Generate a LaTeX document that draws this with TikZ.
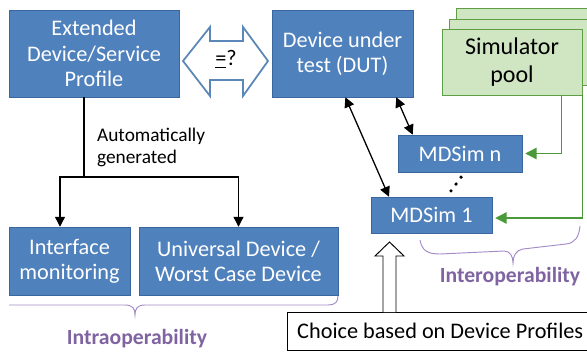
\documentclass[tikz,border=0pt]{standalone}
\usepackage{fontspec}
\setmainfont{Carlito}
\usetikzlibrary{arrows.meta}
\usetikzlibrary{calc}

\definecolor{boxblue}{HTML}{4F81BD}
\definecolor{boxedge}{HTML}{3A689E}
\definecolor{arrowblue}{HTML}{5B87B8}
\definecolor{poolgreen}{HTML}{D0E6C2}
\definecolor{pooledge}{HTML}{5E9E45}
\definecolor{linkgreen}{HTML}{4A9A3A}
\definecolor{bracepurple}{HTML}{A48BC8}
\definecolor{textpurple}{HTML}{8064A2}

\begin{document}
\begin{tikzpicture}
	[x=0.03cm, y=-0.03cm,
	 block/.style={draw=boxedge, fill=boxblue, text=white, align=center, inner sep=0pt, font=\fontsize{19}{21.5}\selectfont},
	 poolbox/.style={draw=pooledge, fill=poolgreen, line width=0.7pt, minimum width=4.2cm, minimum height=1.98cm},
	 link/.style={line width=1.1pt, {Triangle[length=3mm,width=3mm]}-{Triangle[length=3mm,width=3mm]}},
	 feed/.style={draw=linkgreen, line width=1.1pt, -{Triangle[length=3.4mm,width=3.4mm]}},
	 bracket/.style={draw=bracepurple, line width=0.8pt},
	 bracelabel/.style={text=textpurple, font=\fontsize{18.5}{20}\selectfont\bfseries}];

	\useasboundingbox (0,0) rectangle (587,353);

	%Profile and DUT
	\node[block, minimum width=5.1cm, minimum height=2.61cm] (ext) at (94,53.5) {Extended\\Device/Service\\Profile};
	\node[block, minimum width=4.23cm, minimum height=2.61cm] (dut) at (342.5,53.5) {Device under\\test (DUT)};
	\draw[draw=arrowblue, line width=1.5pt, fill=white] (183,61) -- (210,27) -- (210,41) -- (243,41) -- (243,27) -- (268,61) -- (243,96) -- (243,80) -- (210,80) -- (210,96) -- cycle;
	\node[font=\fontsize{19}{20}\selectfont] (eq) at (226,59) {\underline{=}?};

	%Simulator pool
	\node[poolbox] (pool3) at (526,41.5) {};
	\node[poolbox] (pool2) at (519,52) {};
	\node[poolbox, align=center, font=\fontsize{20.5}{24}\selectfont] (pool) at (512,62) {Simulator\\pool};

	\node[block, minimum width=3.72cm, minimum height=1.11cm] (simn) at (460,153.5) {MDSim n};
	\node[block, minimum width=3.63cm, minimum height=1.08cm] (sim1) at (431.5,215) {MDSim 1};

	%Generated
	\node[block, minimum width=3.63cm, minimum height=2.04cm] (mon) at (69.5,261) {Interface\\monitoring};
	\node[block, minimum width=5.97cm, minimum height=2.04cm] (univ) at (238.5,261) {Universal Device /\\Worst Case Device};

	\coordinate (split) at (84,177);
	\draw[line width=1.1pt] (ext.south -| split) -- (split);
	\draw[line width=1.1pt, -{Triangle[length=3mm,width=3mm]}] (split) -| ($(mon.north)+(-9.5,0)$);
	\draw[line width=1.1pt, -{Triangle[length=3mm,width=3mm]}] (split) -| (univ.north);
	\node[anchor=west, align=left, font=\fontsize{16.5}{18.8}\selectfont] (auto) at (93,147) {Automatically\\generated};

	%Links to the DUT
	\draw[link] ($(dut.south west)!0.52!(dut.south east)$) -- ($(sim1.north west)!0.15!(sim1.north east)$);
	\draw[link] ($(dut.south west)!0.88!(dut.south east)$) -- ($(simn.north west)!0.12!(simn.north east)$);
	\coordinate (dotlow) at ($(sim1.north)+(19.5,-6)$);
	\coordinate (dothigh) at ($(simn.south)+(1,5)$);
	\foreach \k in {0,0.5,1}
		\fill ($(dotlow)!\k!(dothigh)$) circle (1.5pt);

	\draw[feed] ($(pool.south west)!0.85!(pool.south east)$) |- ($(simn.east)+(3,0)$);
	\draw[feed] (pool.south east) |- ($(sim1.east)+(3,3)$);

	%Choice
	\node[draw, fill=white, anchor=west, minimum height=1.14cm, inner xsep=0.3cm, font=\fontsize{19}{20}\selectfont] (choice) at (287,331) {Choice based on Device Profiles};
	\draw[line width=0.8pt, fill=white] (383,312) -- (383,256) -- (375,256) -- (389.5,242) -- (404,256) -- (396,256) -- (396,312);

	%Braces
	\draw[bracket] (9,305) -- (125,305) .. controls (133,305) and (135,309) .. (135,315) .. controls (135,309) and (137,305) .. (145,305) -- (328,305) .. controls (335,305) and (338,302) .. (338,296);
	\node[bracelabel] (intra) at (137,339) {Intraoperability};
	\draw[bracket] (420,240) .. controls (422,251) and (428,254) .. (440,254) -- (504,251) .. controls (510,251) and (513,256) .. (513,263) .. controls (513,256) and (516,250) .. (523,249) -- (566,244) .. controls (575,243) and (579,237) .. (580,226);
	\node[bracelabel] (inter) at (510,277) {Interoperability};
\end{tikzpicture}
\end{document}
